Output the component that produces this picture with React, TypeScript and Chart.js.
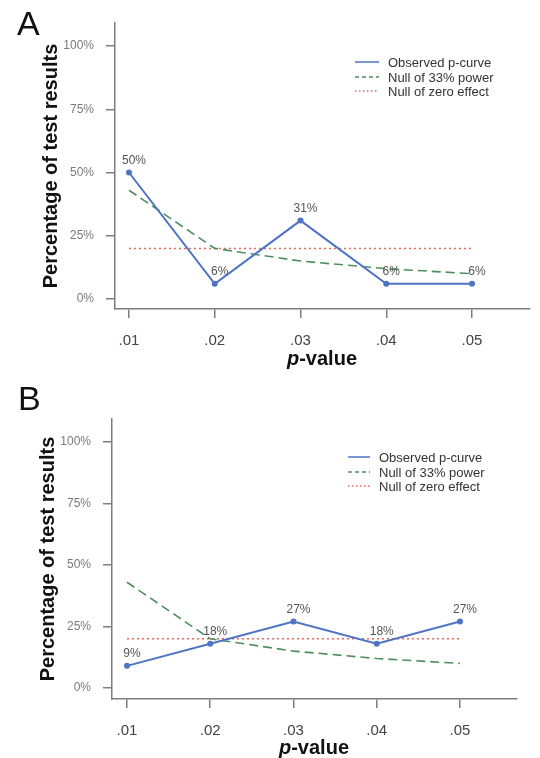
import { useEffect, useRef } from "react";
import Chart from "chart.js/auto";

// values (percent of significant results per p-value bin)
const pLabels = [".01", ".02", ".03", ".04", ".05"];
const yTicks = [0, 25, 50, 75, 100];
const observedA = [50, 6, 31, 6, 6];
const observedB = [9, 18, 27, 18, 27];
const power33 = [43, 20, 15, 12, 10];
const zeroEffect = [20, 20, 20, 20, 20];
const legendNames = ["Observed p-curve", "Null of 33% power", "Null of zero effect"];

const BLUE = "#4f74c2";
const GREEN = "#4f8d5e";
const RED = "#e36a5c";
const AXIS = "#7d7d7d";
const FONT = '"Liberation Sans", Arial, sans-serif';

const W = 540;
const H = 379;

type PanelProps = {
  letter: string;
  observed: number[];
  offsetTop: number;
  box: { left: number; top: number; right: number; bottom: number };
  xRange: [number, number];
  yRange: [number, number];
  letterPos: [number, number];
  yTitlePos: [number, number];
  xTitlePos: [number, number];
  legend: { lineX: number; lineEnd: number; textX: number; firstRow: number };
};

// draws "50%" style labels just above each observed point
const valueLabels = {
  id: "valueLabels",
  afterDatasetsDraw(chart: any) {
    const meta = chart.getDatasetMeta(0);
    const data = chart.data.datasets[0].data;
    const ctx = chart.ctx;
    ctx.save();
    ctx.font = `12px ${FONT}`;
    ctx.fillStyle = "#555";
    ctx.textAlign = "center";
    ctx.textBaseline = "middle";
    meta.data.forEach((pt: any, i: number) => {
      ctx.fillText(`${data[i].y}%`, pt.x + 5, pt.y - 12);
    });
    ctx.restore();
  },
};

function Panel(p: PanelProps) {
  const ref = useRef<HTMLCanvasElement | null>(null);

  useEffect(() => {
    if (!ref.current) return;
    const toPts = (arr: number[]) => arr.map((y, x) => ({ x, y }));

    const chart = new Chart(ref.current, {
      type: "line",
      data: {
        datasets: [
          {
            label: legendNames[0],
            data: toPts(p.observed),
            borderColor: BLUE,
            backgroundColor: BLUE,
            borderWidth: 2,
            pointRadius: 3,
            pointBorderWidth: 0,
            pointBackgroundColor: BLUE,
          },
          {
            label: legendNames[1],
            data: toPts(power33),
            borderColor: GREEN,
            borderWidth: 1.6,
            borderDash: [9, 5],
            pointRadius: 0,
          },
          {
            label: legendNames[2],
            data: toPts(zeroEffect),
            borderColor: RED,
            borderWidth: 1.5,
            borderDash: [2, 3],
            pointRadius: 0,
          },
        ],
      },
      options: {
        responsive: false,
        animation: false,
        events: [],
        layout: {
          padding: { left: 0, top: p.box.top, right: W - p.box.right, bottom: 0 },
        },
        plugins: { legend: { display: false }, tooltip: { enabled: false } },
        scales: {
          x: {
            type: "linear",
            min: p.xRange[0],
            max: p.xRange[1],
            afterBuildTicks: (s: any) => {
              s.ticks = pLabels.map((_, i) => ({ value: i }));
            },
            afterFit: (s: any) => {
              s.height = H - p.box.bottom;
            },
            border: { color: AXIS, width: 1.5 },
            grid: { drawOnChartArea: false, drawTicks: true, tickLength: 9, color: AXIS, lineWidth: 1.5 },
            ticks: {
              autoSkip: false,
              maxRotation: 0,
              padding: 14,
              color: "#444",
              font: { family: FONT, size: 15 },
              callback: (_v: any, i: number) => pLabels[i],
            },
          },
          y: {
            min: p.yRange[0],
            max: p.yRange[1],
            afterBuildTicks: (s: any) => {
              s.ticks = yTicks.map((v) => ({ value: v }));
            },
            afterFit: (s: any) => {
              s.width = p.box.left;
            },
            border: { color: AXIS, width: 1.5 },
            grid: { drawOnChartArea: false, drawTicks: true, tickLength: 9, color: AXIS, lineWidth: 1.5 },
            ticks: {
              padding: 12,
              color: "#7a7a7a",
              font: { family: FONT, size: 12 },
              callback: (v: any) => `${v}%`,
            },
          },
        },
      },
      plugins: [valueLabels],
    });

    return () => {
      chart.destroy();
    };
  }, [p]);

  const samples = [
    { color: BLUE, dash: "", width: 1.5 },
    { color: GREEN, dash: "4 3", width: 1.5 },
    { color: RED, dash: "1.5 2.5", width: 1.5 },
  ];
  const rowH = 14.5;

  return (
    <div style={{ position: "absolute", left: 0, top: p.offsetTop, width: W, height: H }}>
      <canvas ref={ref} width={W} height={H} style={{ position: "absolute", left: 0, top: 0 }} />
      <div
        style={{
          position: "absolute",
          left: p.letterPos[0],
          top: p.letterPos[1],
          fontFamily: '"Liberation Sans Narrow", "Liberation Sans", sans-serif',
          fontSize: 34,
          lineHeight: 1,
          color: "#111",
        }}
      >
        {p.letter}
      </div>
      <div
        style={{
          position: "absolute",
          left: p.yTitlePos[0],
          top: p.yTitlePos[1],
          transform: "translate(-50%, -50%) rotate(-90deg)",
          fontFamily: FONT,
          fontWeight: "bold",
          fontSize: 20,
          whiteSpace: "nowrap",
          color: "#111",
          lineHeight: 1,
        }}
      >
        Percentage of test results
      </div>
      <div
        style={{
          position: "absolute",
          left: p.xTitlePos[0],
          top: p.xTitlePos[1],
          transform: "translate(-50%, -50%)",
          fontFamily: FONT,
          fontWeight: "bold",
          fontSize: 20,
          whiteSpace: "nowrap",
          color: "#111",
          lineHeight: 1,
        }}
      >
        <i>p</i>-value
      </div>
      {legendNames.map((name, i) => {
        const cy = p.legend.firstRow + i * rowH;
        const s = samples[i];
        return (
          <div key={name}>
            <svg
              width={p.legend.lineEnd - p.legend.lineX}
              height={6}
              style={{ position: "absolute", left: p.legend.lineX, top: cy - 3 }}
            >
              <line
                x1={0}
                y1={3}
                x2={p.legend.lineEnd - p.legend.lineX}
                y2={3}
                stroke={s.color}
                strokeWidth={s.width}
                strokeDasharray={s.dash || undefined}
              />
            </svg>
            <div
              style={{
                position: "absolute",
                left: p.legend.textX,
                top: cy,
                transform: "translateY(-50%)",
                fontFamily: FONT,
                fontSize: 13,
                color: "#333",
                whiteSpace: "nowrap",
                lineHeight: 1,
              }}
            >
              {name}
            </div>
          </div>
        );
      })}
    </div>
  );
}

const panelA: PanelProps = {
  letter: "A",
  observed: observedA,
  offsetTop: 0,
  box: { left: 115, top: 23, right: 530, bottom: 309 },
  xRange: [-0.163, 4.676],
  yRange: [-3.95, 109.1],
  letterPos: [17, 6],
  yTitlePos: [50, 166],
  xTitlePos: [322, 358],
  legend: { lineX: 355, lineEnd: 379, textX: 388, firstRow: 62 },
};

const panelB: PanelProps = {
  letter: "B",
  observed: observedB,
  offsetTop: 379,
  box: { left: 112, top: 40, right: 517, bottom: 320 },
  xRange: [-0.18, 4.685],
  yRange: [-4.47, 109.35],
  letterPos: [18, 2],
  yTitlePos: [47, 180],
  xTitlePos: [314, 368],
  legend: { lineX: 348, lineEnd: 370, textX: 379, firstRow: 78 },
};

export default function App() {
  return (
    <div style={{ position: "absolute", left: 0, top: 0, width: W, height: 758, background: "#fff" }}>
      <Panel {...panelA} />
      <Panel {...panelB} />
    </div>
  );
}
